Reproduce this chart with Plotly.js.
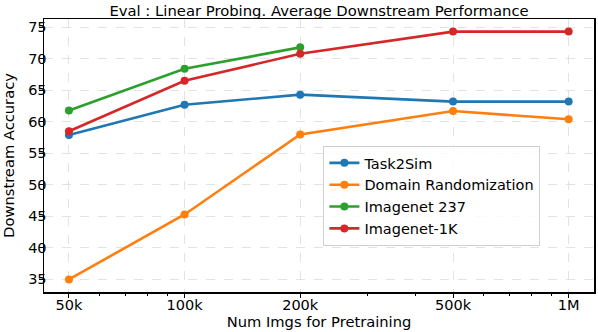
<!DOCTYPE html>
<html>
<head>
<meta charset="utf-8">
<script src="https://cdn.plot.ly/plotly-3.0.1.min.js"></script>
<style>html,body{margin:0;padding:0;background:#fff;}#chart{width:598px;height:332px;}</style>
</head>
<body>
<div id="chart"></div>
<script>
const numImgs = [50000, 100000, 200000, 500000, 1000000];
const tickLabels = ["50k", "100k", "200k", "500k", "1M"];
const task2sim = [57.9, 62.7, 64.3, 63.2, 63.2];
const domainRand = [35.0, 45.3, 58.0, 61.7, 60.4];
const imagenet237 = [61.8, 68.4, 71.8];
const imagenet1k = [58.5, 66.5, 70.8, 74.3, 74.3];
const minorVals = [60000, 70000, 80000, 90000, 300000, 400000, 600000, 700000, 800000, 900000];
const yTicks = [35, 40, 45, 50, 55, 60, 65, 70, 75];

const names = ["Task2Sim", "Domain Randomization", "Imagenet 237", "Imagenet-1K"];
const colors = ["#1f77b4", "#ff7f0e", "#2ca02c", "#d62728"];
const series = [task2sim, domainRand, imagenet237, imagenet1k];

const traces = series.map((ys, i) => ({
  x: numImgs.slice(0, ys.length),
  y: ys,
  name: names[i],
  type: "scatter",
  mode: "lines+markers",
  line: {color: colors[i], width: 2.6},
  marker: {color: colors[i], size: 8}
}));

const layout = {
  width: 598, height: 332,
  margin: {l: 44, r: 4, t: 19, b: 40},
  paper_bgcolor: "#fff", plot_bgcolor: "#fff",
  font: {family: "DejaVu Sans, sans-serif", size: 14.5, color: "#000"},
  title: {text: "Eval : Linear Probing. Average Downstream Performance", xref: "paper", x: 0.5, xanchor: "center", y: 0.966, yanchor: "middle", font: {size: 14.8}},
  xaxis: {
    type: "log",
    range: [4.634, 6.066],
    tickvals: numImgs, ticktext: tickLabels,
    ticks: "outside", ticklen: 4, tickwidth: 1, tickcolor: "#000",
    ticklabelstandoff: -5,
    showgrid: true, gridcolor: "#dcdcdc", griddash: "dash", gridwidth: 0.8,
    showline: true, linecolor: "#000", linewidth: 1.5, mirror: true,
    zeroline: false,
    minor: {tickvals: minorVals, ticks: "outside", ticklen: 2.5, tickcolor: "#000", showgrid: false},
    title: {text: "Num Imgs for Pretraining", standoff: 0, font: {size: 14.7}}
  },
  yaxis: {
    range: [33.0, 76.3],
    tickvals: yTicks,
    ticks: "outside", ticklen: 4, tickwidth: 1, tickcolor: "#000",
    ticklabelstandoff: -11,
    showgrid: true, gridcolor: "#dcdcdc", griddash: "dash", gridwidth: 0.8,
    showline: true, linecolor: "#000", linewidth: 1.5, mirror: true,
    zeroline: false,
    title: {text: "Downstream Accuracy", standoff: 12, font: {size: 14.7}}
  },
  showlegend: true,
  legend: {
    x: 0.508, y: 0.535, xanchor: "left", yanchor: "top",
    bgcolor: "rgba(255,255,255,0.8)", bordercolor: "#d0d0d0", borderwidth: 1,
    font: {size: 14.5}, tracegroupgap: 0, itemwidth: 30
  }
};

Plotly.newPlot("chart", traces, layout, {displayModeBar: false, staticPlot: true});
</script>
</body>
</html>
